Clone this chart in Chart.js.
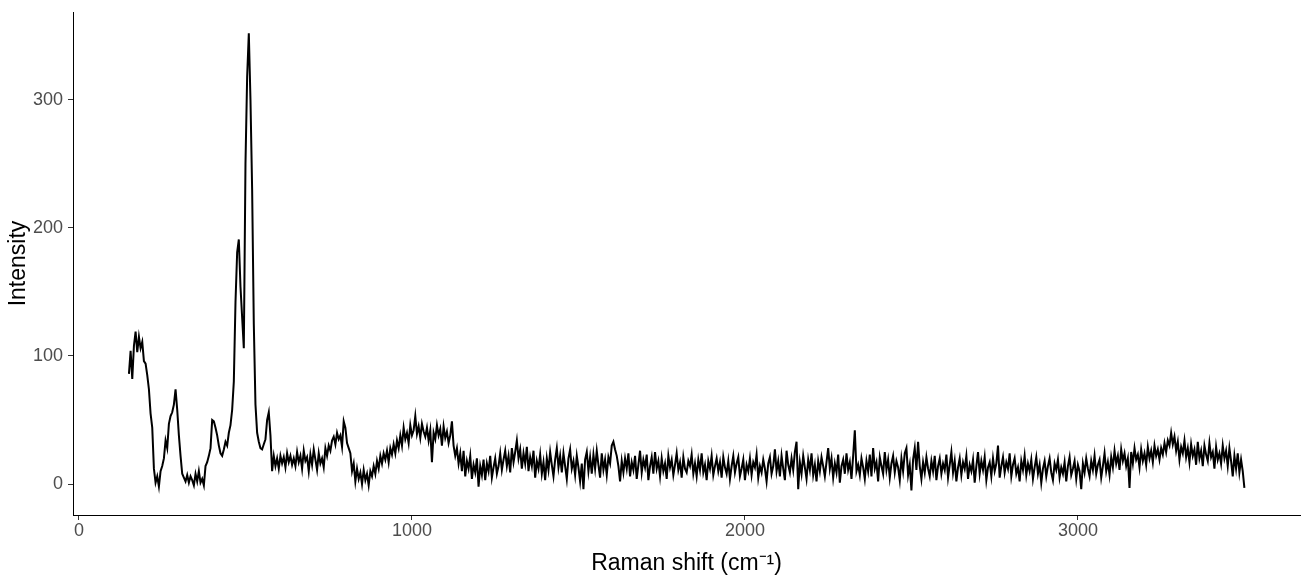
<!DOCTYPE html>
<html>
<head>
<meta charset="utf-8">
<title>Raman spectrum</title>
<script src="https://cdn.jsdelivr.net/npm/chart.js@4/dist/chart.umd.min.js"></script>
<style>
  html, body { margin: 0; padding: 0; background: #fff; }
  #wrap { width: 1306px; height: 576px; }
</style>
</head>
<body>
<div id="wrap"><canvas id="ramanChart" width="1306" height="576"></canvas></div>
<script>
// ── Spectrum data ────────────────────────────────────────────────────────────
// Raman shift sampled every 5 cm-1 from 150 to 3500; one row = 100 cm-1
const SHIFT_START = 150;
const SHIFT_STEP  = 5;
const intensity = [
  86, 104, 82, 108, 119, 103, 115, 106, 111, 96, 94, 85, 74, 55, 44, 12, 1, 6, -2, 10,     // 150
  14, 20, 34, 28, 47, 53, 56, 62, 74, 58, 38, 22, 8, 5, 2, 7, 1, 6, 3, -1,                 // 250
  8, 2, 10, 1, 4, -1, 14, 17, 22, 28, 50, 49, 44, 38, 30, 24, 22, 27, 33, 30,              // 350
  40, 46, 58, 80, 142, 181, 191, 154, 130, 106, 250, 318, 352, 300, 230, 125, 62, 40, 33, 28, // 450
  27, 31, 35, 50, 56, 38, 10, 22, 14, 20, 12, 22, 16, 21, 13, 24, 17, 22, 15, 20,          // 550
  14, 25, 17, 22, 12, 26, 18, 21, 10, 23, 15, 27, 19, 11, 24, 16, 20, 13, 28, 22,          // 650
  30, 26, 34, 37, 31, 40, 35, 38, 29, 49, 44, 32, 28, 24, 10, 16, 2, 12, 4, 9,             // 750
  0, 11, 3, 8, -1, 10, 6, 14, 8, 18, 12, 22, 16, 24, 19, 26, 17, 28, 23, 31,               // 850
  24, 34, 28, 38, 30, 44, 35, 40, 32, 46, 38, 42, 53, 39, 45, 36, 47, 41, 37, 44,          // 950
  34, 42, 17, 40, 35, 46, 38, 43, 30, 45, 36, 41, 32, 38, 49, 30, 22, 28, 16, 24,          // 1050
  10, 26, 6, 18, 12, 22, 4, 15, 9, 20, -2, 14, 7, 19, 3, 16, 10, 22, 5, 13,                // 1150
  20, 8, 14, 24, 11, 19, 26, 14, 22, 9, 28, 17, 25, 34, 20, 27, 12, 24, 16, 29,            // 1250
  10, 21, 14, 26, 5, 18, 12, 23, 8, 17, 3, 20, 11, 25, 15, 6, 19, 28, 13, 22,              // 1350
  9, 24, 14, 4, 20, 27, 12, 18, 7, 22, 13, 2, 16, -4, 19, 25, 10, 21, 8, 23,               // 1450
  12, 26, 15, 5, 24, 11, 19, 7, 21, 16, 30, 33, 27, 22, 14, 2, 18, 9, 20, 12,              // 1550
  24, 6, 17, 11, 22, 4, 15, 26, 9, 19, 13, 23, 3, 14, 21, 8, 25, 12, 18, 6,                // 1650
  20, 10, 16, 4, 22, 13, 19, 7, 15, 24, 11, 17, 5, 21, 12, 9, 18, 14, 23, 8,               // 1750
  16, 6, 19, 11, 24, 9, 15, 3, 18, 12, 22, 7, 14, 20, 10, 17, 5, 21, 13, 8,                // 1850
  18, 4, 14, 22, 9, 16, 21, 6, 12, 19, 3, 15, 10, 20, 7, 17, 13, 23, 5, 14,                // 1950
  9, 19, 12, 2, 16, 21, 8, 14, 27, 10, 18, 6, 22, 12, 3, 26, 15, 9, 20, 11,                // 2050
  25, 33, -4, 17, 8, 22, 13, 4, 19, 11, 24, 7, 15, 2, 18, 10, 21, 14, 6, 17,               // 2150
  28, 12, 20, 5, 16, 9, 23, 1, 14, 19, 8, 24, 11, 17, 4, 22, 42, 10, 15, 7,                // 2250
  20, 13, 4, 18, 10, 23, 6, 28, 12, 17, 2, 21, 14, 8, 25, 11, 19, 5, 16, 22,               // 2350
  9, 18, 13, 3, 20, 10, 24, 28, 7, 15, -5, 19, 28, 11, 33, 14, 4, 17, 9, 21,               // 2450
  12, 6, 18, 10, 22, 3, 14, 20, 8, 16, 11, 23, 5, 15, 25, 9, 18, 2, 13, 20,                // 2550
  7, 17, 12, 22, 4, 15, 10, 19, 1, 14, 25, 8, 18, 11, 21, 3, 13, 17, 6, 20,                // 2650
  10, 16, 30, 5, 14, 21, 9, 17, 12, 24, 6, 15, 20, 8, 13, 2, 18, 11, 22, 7,                // 2750
  16, 10, 19, 4, 13, 21, 8, 15, 1, 12, 18, 6, 14, 20, 9, 3, 16, 11, 19, 5,                 // 2850
  13, 8, 17, 2, 14, 21, 7, 12, 18, 4, 15, 10, -4, 16, 9, 20, 12, 6, 18, 11,                // 2950
  22, 8, 15, 19, 5, 14, 24, 10, 17, 7, 21, 13, 26, 16, 22, 11, 27, 18, 24, 14,             // 3050
  20, -3, 25, 16, 28, 19, 23, 13, 27, 18, 24, 15, 29, 20, 26, 17, 30, 22, 27, 19,          // 3150
  28, 23, 32, 25, 34, 30, 40, 31, 37, 26, 33, 19, 29, 24, 34, 21, 28, 17, 31, 22,          // 3250
  27, 15, 33, 20, 26, 14, 30, 23, 18, 32, 21, 25, 12, 29, 19, 24, 16, 30, 20, 26,          // 3350
  14, 28, 18, 6, 22, 12, 24, 9, 19, 10, -3                                                 // 3450
];
const xTicks = [0, 1000, 2000, 3000];
const yTicks = [0, 100, 200, 300];

// ── Styling helpers ─────────────────────────────────────────────────────────
const FONT     = '"Liberation Sans", Arial, Helvetica, sans-serif';
const TICK_CLR = '#4d4d4d';
const AXIS_CLR = '#333333';

const points = intensity.map((v, i) => ({ x: SHIFT_START + i * SHIFT_STEP, y: v }));

const axisBase = {
  grid:   { drawOnChartArea: false, drawTicks: true, tickLength: 5, color: AXIS_CLR, lineWidth: 1 },
  border: { display: true, color: '#000', width: 1 },
};

new Chart(document.getElementById('ramanChart').getContext('2d'), {
  type: 'line',
  data: {
    datasets: [{
      data: points,
      borderColor: '#000',
      borderWidth: 2,
      pointRadius: 0,
      tension: 0,
      fill: false,
    }],
  },
  options: {
    responsive: false,
    animation: false,
    layout: { padding: { top: 12, right: 6, left: 0, bottom: 0 } },
    plugins: { legend: { display: false }, tooltip: { enabled: false } },
    scales: {
      x: {
        ...axisBase,
        type: 'linear',
        min: -18,
        max: 3667,
        afterFit: s => { s.height = 61; s.paddingLeft = 0; s.paddingRight = 0; },
        afterBuildTicks: s => { s.ticks = xTicks.map(v => ({ value: v })); },
        ticks: { color: TICK_CLR, font: { family: FONT, size: 18 }, padding: 0, maxRotation: 0,
                 callback: v => String(v) },
        title: {
          display: true,
          text: 'Raman shift (cm\u207B\u00B9)',
          color: '#000',
          font: { family: FONT, size: 23, lineHeight: 1 },
          padding: { top: 0, bottom: 1 },
        },
      },
      y: {
        ...axisBase,
        type: 'linear',
        min: -24.2,
        max: 368.6,
        afterFit: s => { s.width = 73; s.paddingTop = 0; s.paddingBottom = 0; },
        afterBuildTicks: s => { s.ticks = yTicks.map(v => ({ value: v })); },
        ticks: { color: TICK_CLR, font: { family: FONT, size: 18 }, padding: 5,
                 callback: v => String(v) },
        title: {
          display: true,
          text: 'Intensity',
          color: '#000',
          font: { family: FONT, size: 23, lineHeight: 1 },
          padding: { top: 7, bottom: 0 },
        },
      },
    },
  },
});
</script>
</body>
</html>
